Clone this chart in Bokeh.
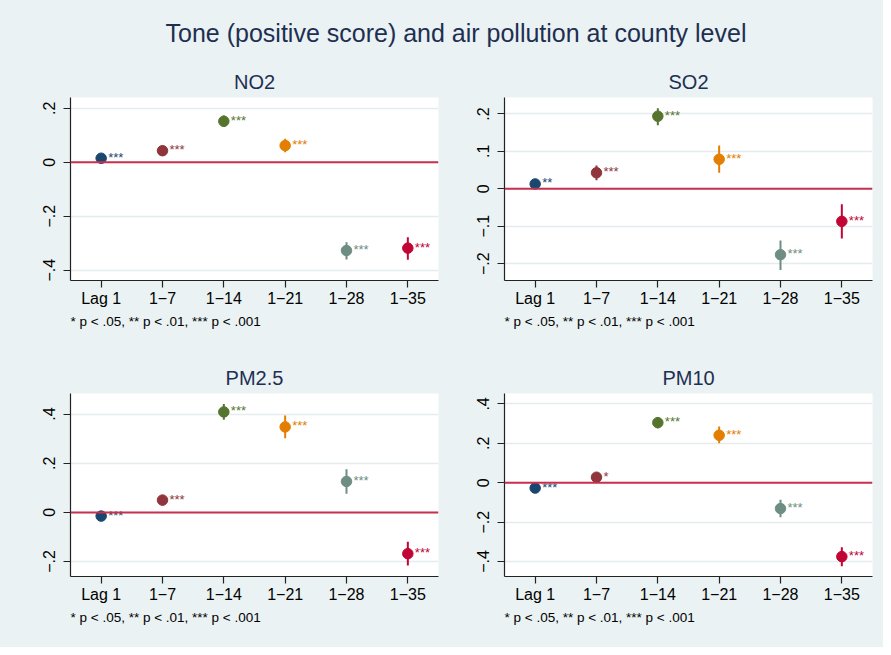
from bokeh.plotting import figure
from bokeh.layouts import column, row
from bokeh.models import FixedTicker, Title, ColumnDataSource, Span, FactorRange, Range1d
from bokeh.core.properties import value
from bokeh.embed import file_html
from bokeh.resources import INLINE

# ---------------- data ----------------
lags = ["Lag 1", "1\u22127", "1\u221214", "1\u221221", "1\u221228", "1\u221235"]
colors = ["#1A476F", "#90353B", "#55752F", "#E37E00", "#6E8E84", "#C10534"]

no2_est = [0.015, 0.043, 0.152, 0.062, -0.327, -0.318]
no2_lo = [0.006, 0.032, 0.132, 0.037, -0.360, -0.361]
no2_hi = [0.024, 0.055, 0.173, 0.087, -0.296, -0.278]
no2_stars = ["***", "***", "***", "***", "***", "***"]

so2_est = [0.013, 0.043, 0.194, 0.079, -0.176, -0.087]
so2_lo = [0.005, 0.023, 0.170, 0.043, -0.217, -0.133]
so2_hi = [0.021, 0.062, 0.215, 0.116, -0.138, -0.041]
so2_stars = ["**", "***", "***", "***", "***", "***"]

pm25_est = [-0.015, 0.050, 0.409, 0.348, 0.126, -0.168]
pm25_lo = [-0.026, 0.028, 0.377, 0.302, 0.076, -0.216]
pm25_hi = [-0.004, 0.069, 0.441, 0.394, 0.176, -0.120]
pm25_stars = ["***", "***", "***", "***", "***", "***"]

pm10_est = [-0.027, 0.028, 0.305, 0.241, -0.131, -0.375]
pm10_lo = [-0.038, 0.005, 0.276, 0.200, -0.175, -0.424]
pm10_hi = [-0.016, 0.051, 0.334, 0.285, -0.087, -0.328]
pm10_stars = ["***", "*", "***", "***", "***", "***"]

no2_ticks = [-0.4, -0.2, 0.0, 0.2]
no2_tick_labels = ["\u2212.4", "\u2212.2", "0", ".2"]
so2_ticks = [-0.2, -0.1, 0.0, 0.1, 0.2]
so2_tick_labels = ["\u2212.2", "\u2212.1", "0", ".1", ".2"]
pm25_ticks = [-0.2, 0.0, 0.2, 0.4]
pm25_tick_labels = ["\u2212.2", "0", ".2", ".4"]
pm10_ticks = [-0.4, -0.2, 0.0, 0.2, 0.4]
pm10_tick_labels = ["\u2212.4", "\u2212.2", "0", ".2", ".4"]

main_title = "Tone (positive score) and air pollution at county level"
footnote = "* p < .05, ** p < .01, *** p < .001"

# ---------------- style ----------------
BG = "#EAF2F3"
NAVY = "#1E2F52"
FONT = "Liberation Sans"


def panel(name, est, lo, hi, stars, ticks, tick_labels, yr, width, height,
          bl, br, bt, bb):
    p = figure(x_range=FactorRange(factors=lags), y_range=Range1d(*yr),
               width=width, height=height, toolbar_location=None,
               output_backend="svg", min_border_left=bl, min_border_right=br,
               min_border_top=bt, min_border_bottom=bb)
    p.background_fill_color = "white"
    p.border_fill_color = BG
    p.outline_line_color = None

    p.title.text = name
    p.title.align = "center"
    p.title.text_font = FONT
    p.title.text_font_size = "20px"
    p.title.text_font_style = "normal"
    p.title.text_color = NAVY
    p.title.standoff = 10

    p.add_layout(Title(text=footnote, align="left", text_font=FONT,
                       text_font_size="13.5px", text_font_style="normal",
                       text_color="black", standoff=4), "below")

    for ax in (p.xaxis[0], p.yaxis[0]):
        ax.axis_line_color = "#222222"
        ax.axis_line_width = 1.2
        ax.major_tick_line_color = "#222222"
        ax.major_tick_line_width = 1.2
        ax.major_tick_out = 7
        ax.major_tick_in = 0
        ax.minor_tick_line_color = None
        ax.major_label_text_font = FONT
        ax.major_label_text_font_size = "16px"
        ax.major_label_text_color = "black"
        ax.major_label_standoff = 2

    p.yaxis.ticker = FixedTicker(ticks=ticks)
    p.yaxis.major_label_overrides = {t: l for t, l in zip(ticks, tick_labels)}
    p.yaxis.major_label_orientation = "vertical"
    p.yaxis.major_label_standoff = 8

    p.xgrid.visible = False
    p.ygrid.grid_line_color = "#E4ECEE"
    p.ygrid.grid_line_width = 1.5

    p.add_layout(Span(location=0, dimension="width", line_color="#C8304F",
                      line_width=2))

    src = ColumnDataSource(dict(x=lags, est=est, lo=lo, hi=hi, stars=stars,
                                color=colors))
    p.segment(x0="x", y0="lo", x1="x", y1="hi", line_color="color",
              line_width=2, source=src)
    p.scatter("x", "est", size=10.5, fill_color="color", line_color="color",
              source=src)
    p.text("x", "est", text="stars", x_offset=7, y_offset=-1,
           text_baseline="alphabetic", text_align="left",
           text_font_size="13px", text_color="color",
           text_font=value(FONT), source=src)
    return p


f1 = panel("NO2", no2_est, no2_lo, no2_hi, no2_stars, no2_ticks,
           no2_tick_labels, (-0.438, 0.24), 446, 295, 70, 8, 47, 65)
f2 = panel("SO2", so2_est, so2_lo, so2_hi, so2_stars, so2_ticks,
           so2_tick_labels, (-0.245, 0.244), 437, 295, 58, 11, 47, 65)
f3 = panel("PM2.5", pm25_est, pm25_lo, pm25_hi, pm25_stars, pm25_ticks,
           pm25_tick_labels, (-0.261, 0.484), 446, 302, 70, 8, 48, 71)
f4 = panel("PM10", pm10_est, pm10_lo, pm10_hi, pm10_stars, pm10_ticks,
           pm10_tick_labels, (-0.476, 0.453), 437, 302, 58, 11, 48, 71)

t = figure(width=883, height=50, toolbar_location=None, output_backend="svg",
           x_axis_type=None, y_axis_type=None, min_border_top=48,
           min_border_bottom=0, min_border_left=28, min_border_right=0)
t.background_fill_color = BG
t.border_fill_color = BG
t.outline_line_color = None
t.xgrid.visible = False
t.ygrid.visible = False
t.title.text = main_title
t.title.align = "center"
t.title.text_font = FONT
t.title.text_font_size = "25px"
t.title.text_font_style = "normal"
t.title.text_color = NAVY
t.title.standoff = 4

bgstyle = {"background-color": BG}
p = column(t, row(f1, f2, styles=bgstyle), row(f3, f4, styles=bgstyle),
           styles=bgstyle)

open("out.html", "w").write(file_html(p, INLINE))
